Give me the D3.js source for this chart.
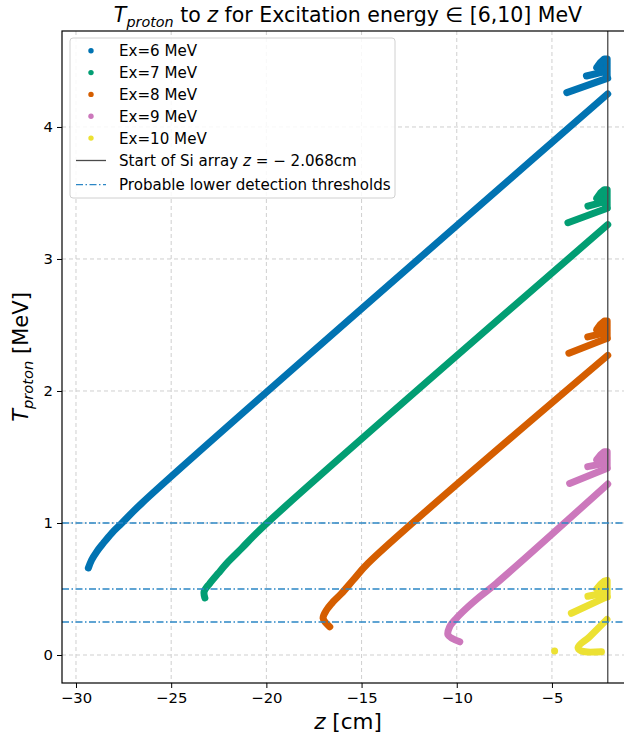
<!DOCTYPE html>
<html><head><meta charset="utf-8">
<script src="https://cdn.jsdelivr.net/npm/d3@7"></script>
<style>body{margin:0;background:#fff;overflow:hidden} svg{display:block;font-family:"DejaVu Sans",sans-serif}</style>
</head><body><svg id="c" width="624" height="735"></svg>
<script>
// ---- data ----
const seriesNames = ["Ex=6 MeV", "Ex=7 MeV", "Ex=8 MeV", "Ex=9 MeV", "Ex=10 MeV"];
const seriesColors = ["#0173b2", "#029e73", "#d55e00", "#cc78bc", "#ece133"];
// point groups [z (cm), T (MeV)]
const ex6Main = [[-29.35,0.659],[-29.18,0.72],[-28.91,0.783],[-28.57,0.846],[-28.13,0.922],[-27.60,0.998],[-26.55,1.149],[-2.07,4.25]];
const ex6Branch = [[-4.22,4.26],[-2.07,4.37]];
const ex6Flag = [[-3.19,4.386],[-2.23,4.42]];
const ex6Blob = [[-2.65,4.45],[-2.45,4.49],[-2.25,4.515],[-2.1,4.515],[-2.1,4.39],[-2.35,4.43]];
const ex7Main = [[-23.23,0.432],[-23.27,0.48],[-22.97,0.543],[-22.53,0.619],[-22.0,0.707],[-21.30,0.808],[-20.17,0.972],[-2.07,3.26]];
const ex7Branch = [[-4.16,3.275],[-2.10,3.384]];
const ex7Flag = [[-3.11,3.40],[-2.23,3.435]];
const ex7Blob = [[-2.65,3.46],[-2.45,3.50],[-2.25,3.525],[-2.1,3.525],[-2.1,3.39],[-2.35,3.44]];
const ex8Main = [[-16.67,0.214],[-17.02,0.278],[-16.84,0.341],[-16.49,0.404],[-16.05,0.467],[-15.44,0.568],[-14.66,0.695],[-2.07,2.27]];
const ex8Branch = [[-4.11,2.286],[-2.10,2.40]];
const ex8Flag = [[-3.12,2.41],[-2.23,2.44]];
const ex8Blob = [[-2.65,2.465],[-2.45,2.505],[-2.25,2.53],[-2.1,2.53],[-2.1,2.40],[-2.35,2.445]];
const ex9Main = [[-9.84,0.10],[-10.46,0.152],[-10.37,0.214],[-10.02,0.278],[-9.49,0.354],[-8.79,0.442],[-7.92,0.543],[-2.07,1.295]];
const ex9Branch = [[-4.07,1.30],[-2.10,1.414]];
const ex9Flag = [[-3.12,1.427],[-2.23,1.452]];
const ex9Blob = [[-2.65,1.48],[-2.45,1.515],[-2.25,1.54],[-2.1,1.54],[-2.1,1.42],[-2.35,1.46]];
const ex10Main = [[-2.11,0.27],[-3.02,0.139],[-3.63,0.058],[-3.45,0.03],[-2.40,0.025]];
const ex10Stray = [[-4.86,0.03]];
const ex10Branch = [[-3.98,0.316],[-2.10,0.442]];
const ex10Flag = [[-3.11,0.445],[-2.23,0.47]];
const ex10Blob = [[-2.65,0.50],[-2.45,0.535],[-2.25,0.56],[-2.1,0.565],[-2.1,0.44],[-2.35,0.48]];
const seriesMain = [ex6Main, ex7Main, ex8Main, ex9Main, ex10Main];
const seriesLines = [[ex6Branch, ex6Flag], [ex7Branch, ex7Flag], [ex8Branch, ex8Flag], [ex9Branch, ex9Flag], [ex10Branch, ex10Flag]];
const seriesBlobs = [ex6Blob, ex7Blob, ex8Blob, ex9Blob, ex10Blob];
const seriesDots = [[], [], [], [], ex10Stray];
const xTicks = [-30, -25, -20, -15, -10, -5];
const yTicks = [0, 1, 2, 3, 4];
const siArrayZ = -2.068;
const thresholds = [1, 0.5, 0.25];

// ---- drawing ----
const svg = d3.select("#c");
const L = 62, R = 634, T = 31, B = 683;
const x = d3.scaleLinear().domain([-30.735, -0.69]).range([L, R]);
const y = d3.scaleLinear().domain([-0.212, 4.727]).range([B, T]);
const FS = 15.1, LW = 7;

// grid
const grid = svg.append("g");
xTicks.forEach(t => grid.append("line").attr("x1", x(t)).attr("x2", x(t)).attr("y1", T).attr("y2", B)
  .attr("stroke", "#cfcfcf").attr("stroke-width", 1).attr("stroke-dasharray", "4,3"));
yTicks.forEach(t => grid.append("line").attr("x1", L).attr("x2", R).attr("y1", y(t)).attr("y2", y(t))
  .attr("stroke", "#cfcfcf").attr("stroke-width", 1).attr("stroke-dasharray", "4,3"));

// data
const smooth = d3.line().x(d => x(d[0])).y(d => y(d[1])).curve(d3.curveCatmullRom.alpha(0.5));
const straight = d3.line().x(d => x(d[0])).y(d => y(d[1]));
const closed = d3.line().x(d => x(d[0])).y(d => y(d[1])).curve(d3.curveLinearClosed);
seriesNames.forEach((n, i) => {
  const g = svg.append("g"), c = seriesColors[i];
  const st = p => p.attr("stroke", c).attr("stroke-width", LW).attr("stroke-linecap", "round").attr("stroke-linejoin", "round");
  st(g.append("path").attr("d", smooth(seriesMain[i])).attr("fill", "none"));
  seriesLines[i].forEach(pts => st(g.append("path").attr("d", straight(pts)).attr("fill", "none")));
  st(g.append("path").attr("d", closed(seriesBlobs[i])).attr("fill", c));
  seriesDots[i].forEach(p => g.append("circle").attr("cx", x(p[0])).attr("cy", y(p[1])).attr("r", LW / 2).attr("fill", c));
});

// reference lines
svg.append("line").attr("x1", x(siArrayZ)).attr("x2", x(siArrayZ)).attr("y1", T).attr("y2", B)
  .attr("stroke", "#4a4a4a").attr("stroke-width", 1.3);
thresholds.forEach(t => svg.append("line").attr("x1", L).attr("x2", R).attr("y1", y(t)).attr("y2", y(t))
  .attr("stroke", "#2b86c5").attr("stroke-width", 1.3).attr("stroke-dasharray", "7,2.5,1.5,2.5"));

// axes
const xAxis = svg.append("g").attr("transform", `translate(0,${B})`)
  .call(d3.axisBottom(x).tickValues(xTicks).tickFormat(d => d < 0 ? "\u2212" + Math.abs(d) : d).tickSize(5).tickSizeOuter(0));
const yAxis = svg.append("g").attr("transform", `translate(${L},0)`)
  .call(d3.axisLeft(y).tickValues(yTicks).tickFormat(d3.format("d")).tickSize(5).tickSizeOuter(0));
[xAxis, yAxis].forEach(a => {
  a.select(".domain").remove();
  a.selectAll("text").attr("font-size", FS - 0.3).attr("font-family", "DejaVu Sans").attr("fill", "#000");
  a.selectAll("line").attr("stroke", "#000").attr("stroke-width", 1);
});
xAxis.selectAll("text").attr("y", 9).attr("dy", "0.76em");
yAxis.selectAll("text").attr("x", -9);
svg.append("rect").attr("x", L).attr("y", T).attr("width", R - L).attr("height", B - T)
  .attr("fill", "none").attr("stroke", "#000").attr("stroke-width", 1.2);

// legend
const lg = svg.append("g");
lg.append("rect").attr("x", 70).attr("y", 38).attr("width", 325).attr("height", 160).attr("rx", 3)
  .attr("fill", "rgba(255,255,255,0.85)").attr("stroke", "#d0d0d0").attr("stroke-width", 1);
const rowY = [50.7, 72.6, 94.4, 116.2, 138.1, 160.5, 184.7];
seriesNames.forEach((n, i) => {
  lg.append("circle").attr("cx", 91).attr("cy", rowY[i]).attr("r", 2.7).attr("fill", seriesColors[i]);
  lg.append("text").attr("x", 119).attr("y", rowY[i]).attr("dy", "0.36em").attr("font-size", FS).text(n);
});
lg.append("line").attr("x1", 76).attr("x2", 106).attr("y1", rowY[5]).attr("y2", rowY[5]).attr("stroke", "#4a4a4a").attr("stroke-width", 1.3);
lg.append("line").attr("x1", 76).attr("x2", 106).attr("y1", rowY[6]).attr("y2", rowY[6]).attr("stroke", "#2b86c5")
  .attr("stroke-width", 1.3).attr("stroke-dasharray", "7,2.5,1.5,2.5");

// rich text helper: pieces = [text, italic, sub]
function rich(parent, pieces, fs, anchor, cx, cy, rot) {
  const g = parent.append("g");
  const inner = g.append("g");
  let cur = 0;
  pieces.forEach(([t, it, sub]) => {
    const size = sub ? fs * 0.7 : fs;
    const el = inner.append("text").attr("x", cur).attr("y", sub ? fs * 0.22 : 0)
      .attr("font-size", size).attr("font-style", it ? "italic" : "normal")
      .style("white-space", "pre").text(t);
    cur += el.node().getComputedTextLength();
  });
  const shift = anchor === "middle" ? -cur / 2 : 0;
  inner.attr("transform", `translate(${shift},0)`);
  g.attr("transform", `translate(${cx},${cy})` + (rot ? ` rotate(${rot})` : ""));
  return g;
}
rich(lg, [["Start of Si array ", 0, 0], ["z", 1, 0], [" = \u2212 2.068cm", 0, 0]], FS, "start", 119, rowY[5] + FS * 0.36);
lg.append("text").attr("x", 119).attr("y", rowY[6]).attr("dy", "0.36em").attr("font-size", FS).text("Probable lower detection thresholds");

// title & axis labels
rich(svg, [["T", 1, 0], ["proton", 1, 1], [" to ", 0, 0], ["z", 1, 0], [" for Excitation energy \u2208 [6,10] MeV", 0, 0]], 20.5, "middle", (L + R) / 2, 22);
rich(svg, [["z", 1, 0], [" [cm]", 0, 0]], 21.5, "middle", (L + R) / 2, 729);
rich(svg, [["T", 1, 0], ["proton", 1, 1], [" [MeV]", 0, 0]], 21, "middle", 28, (T + B) / 2, -90);
</script></body></html>
